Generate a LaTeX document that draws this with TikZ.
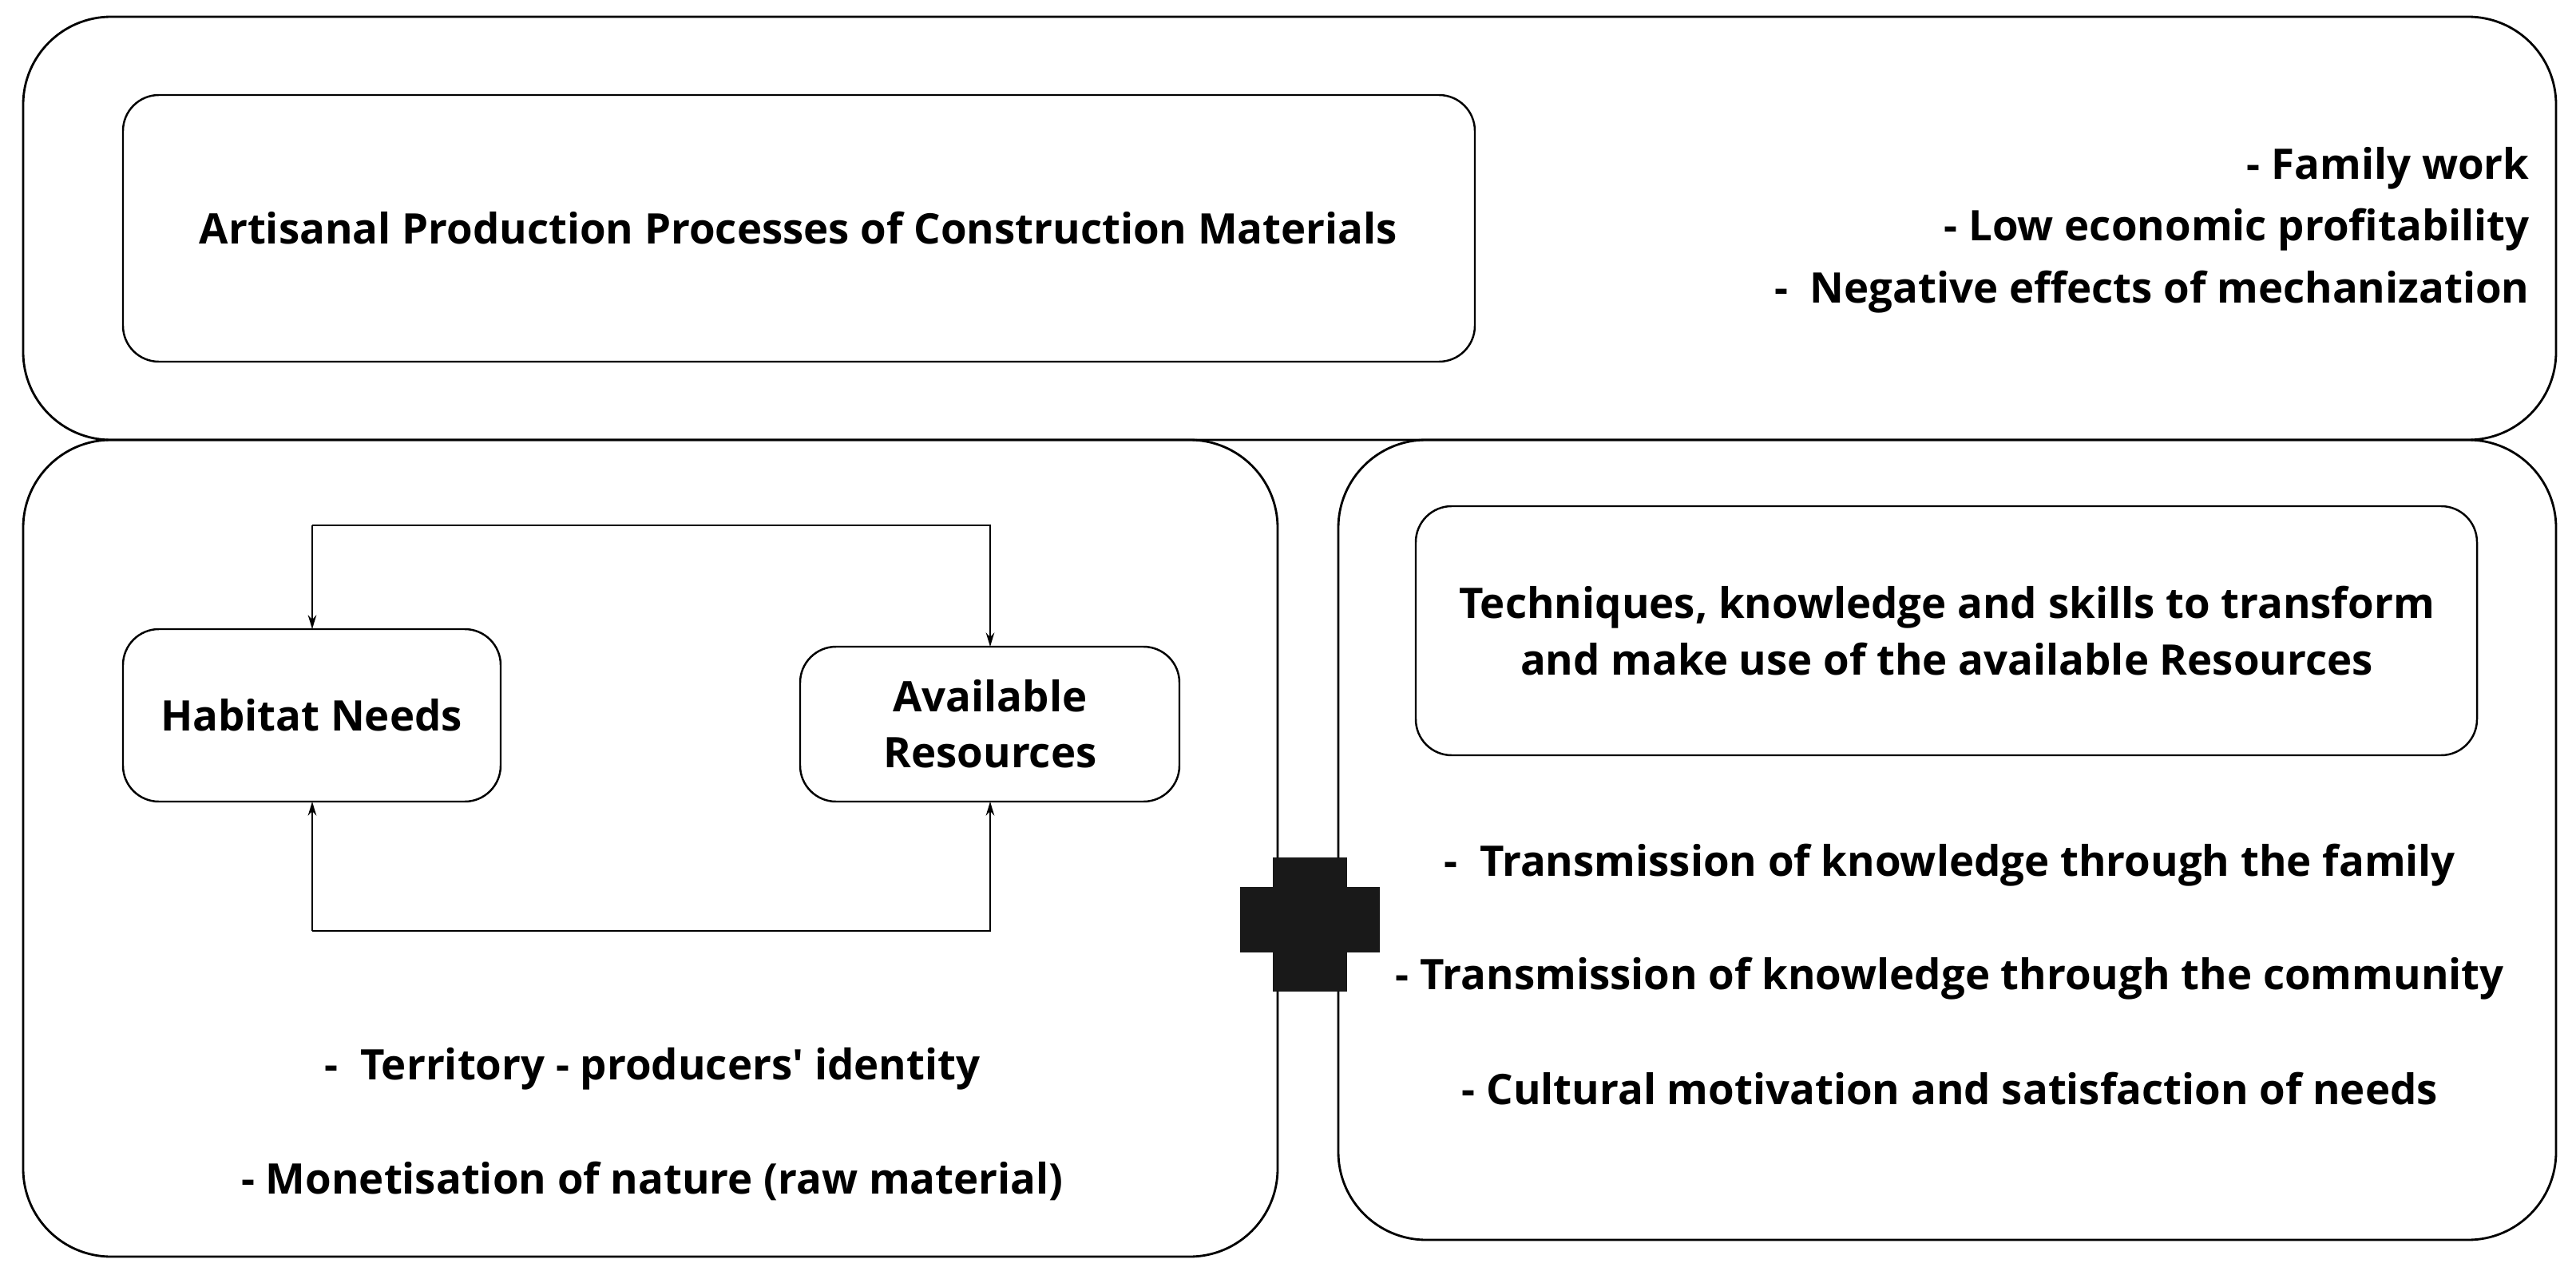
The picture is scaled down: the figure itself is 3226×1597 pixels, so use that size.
\documentclass[tikz,border=0pt]{standalone}
\usepackage{fontspec}
\setmainfont{Open Sans}
\usetikzlibrary{arrows.meta}
\begin{document}
\begin{tikzpicture}[x=0.01cm,y=-0.01cm,
 box/.style={draw,line width=0.8pt,rounded corners=1.1cm},
 ibox/.style={draw,line width=0.7pt,rounded corners=0.45cm},
 txt/.style={font=\bfseries\fontsize{15}{20}\selectfont,align=center},
 arr/.style={line width=0.6pt,-{Stealth[length=5pt,width=3pt]}}]
\useasboundingbox (0,0) rectangle (3226,1597);
\draw[box] (29,21) rectangle (3201,551);
\draw[box] (29,551) rectangle (1600,1574);
\draw[box] (1676,551) rectangle (3201,1553);
\draw[ibox] (154,119) rectangle (1847,453);
\node[txt] (toptxt) at (1000,286) {Artisanal Production Processes of Construction Materials};
\node[txt,align=right,anchor=east] (rt) at (3180,288) {- Family work\\[2pt]- Low economic profitability\\[2pt]-\ \ Negative effects of mechanization};
\draw[ibox] (154,788) rectangle (627,1004);
\node[txt] (hab) at (390,896) {Habitat Needs};
\draw[ibox] (1002,810) rectangle (1477,1004);
\node[txt] (av) at (1240,907) {Available\\Resources};
\coordinate (a1) at (391,658); \coordinate (a2) at (1240,658);
\coordinate (b1) at (391,1166); \coordinate (b2) at (1240,1166);
\coordinate (hn) at (391,788); \coordinate (hs) at (391,1004);
\coordinate (an) at (1240,810); \coordinate (as) at (1240,1004);
\draw[arr] (a1) -- (a2) -- (an);
\draw[arr] (a1) -- (hn);
\draw[arr] (b1) -- (hs);
\draw[arr] (b1) -- (b2) -- (as);
\node[txt] (l1) at (817,1339) {-\ \ Territory - producers\textquotesingle\ identity};
\node[txt] (l2) at (817,1479) {- Monetisation of nature (raw material)};
\draw[ibox] (1773,634) rectangle (3102,946);
\node[txt] (tech) at (2438,790) {Techniques, knowledge and skills to transform\\and make use of the available Resources};
\node[txt] (r1) at (2442,1084) {-\ \ Transmission of knowledge through the family};
\node[txt] (r2) at (2442,1226) {- Transmission of knowledge through the community};
\node[txt] (r3) at (2442,1364) {- Cultural motivation and satisfaction of needs};
\fill[black!90] (1594,1074) rectangle (1687,1242);
\fill[black!90] (1553,1111) rectangle (1728,1193);
\end{tikzpicture}
\end{document}
